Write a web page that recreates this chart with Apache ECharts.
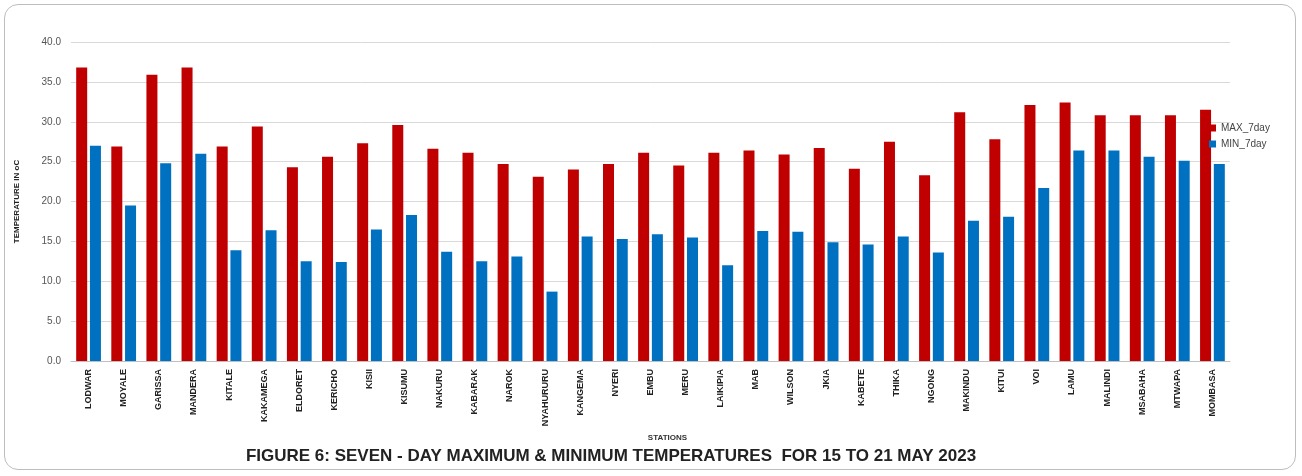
<!DOCTYPE html>
<html><head><meta charset="utf-8">
<script src="https://cdn.jsdelivr.net/npm/echarts@6/dist/echarts.min.js"></script>
<style>
html,body{margin:0;padding:0;background:#fff;}
#frame{position:absolute;left:4px;top:4px;width:1292px;height:466px;border:1px solid #bdbdbd;border-radius:14px;box-sizing:border-box;}
#c{position:absolute;left:0;top:0;width:1302px;height:476px;}
</style></head>
<body>
<div id="frame"></div>
<div id="c"></div>
<script>
const stations = ["LODWAR","MOYALE","GARISSA","MANDERA","KITALE","KAKAMEGA","ELDORET","KERICHO","KISII","KISUMU","NAKURU","KABARAK","NAROK","NYAHURURU","KANGEMA","NYERI","EMBU","MERU","LAIKIPIA","MAB","WILSON","JKIA","KABETE","THIKA","NGONG","MAKINDU","KITUI","VOI","LAMU","MALINDI","MSABAHA","MTWAPA","MOMBASA"];
const max7day = [36.8,26.9,35.9,36.8,26.9,29.4,24.3,25.6,27.3,29.6,26.6,26.1,24.7,23.1,24.0,24.7,26.1,24.5,26.1,26.4,25.9,26.7,24.1,27.5,23.3,31.2,27.8,32.1,32.4,30.8,30.8,30.8,31.5];
const min7day = [27.0,19.5,24.8,26.0,13.9,16.4,12.5,12.4,16.5,18.3,13.7,12.5,13.1,8.7,15.6,15.3,15.9,15.5,12.0,16.3,16.2,14.9,14.6,15.6,13.6,17.6,18.1,21.7,26.4,26.4,25.6,25.1,24.7];
const yTicks = {min:0, max:40, interval:5};

const chart = echarts.init(document.getElementById('c'));
chart.setOption({
  animation:false,
  textStyle:{fontFamily:'Liberation Sans Narrow, Liberation Sans, sans-serif'},
  title:{text:'FIGURE 6: SEVEN - DAY MAXIMUM & MINIMUM TEMPERATURES  FOR 15 TO 21 MAY 2023',left:606,top:443,textAlign:'center',
    textStyle:{fontFamily:'Liberation Sans Narrow, sans-serif',fontSize:17,fontWeight:'bold',color:'#222'}},
  legend:{orient:'vertical',left:1204,top:118,itemWidth:7,itemHeight:7,itemGap:6,icon:'rect',
    textStyle:{fontSize:10,color:'#444',fontFamily:'Liberation Sans, sans-serif'}},
  grid:{left:71,right:72,top:42,bottom:115},
  xAxis:{type:'category',data:stations,name:'STATIONS',nameLocation:'middle',nameGap:68,
    nameTextStyle:{fontSize:8,fontWeight:'bold',color:'#333',padding:[0,0,0,34]},
    axisTick:{show:false},axisLine:{lineStyle:{color:'#bfbfbf'}},
    axisLabel:{rotate:90,interval:0,fontSize:9,fontWeight:'bold',color:'#222',margin:8}},
  yAxis:{type:'value',min:yTicks.min,max:yTicks.max,interval:yTicks.interval,name:'TEMPERATURE IN oC',
    nameLocation:'middle',nameGap:50,nameRotate:90,
    nameTextStyle:{fontSize:8,fontWeight:'bold',color:'#222'},
    axisLabel:{formatter:v=>v.toFixed(1),fontSize:10,color:'#555',fontFamily:'Liberation Sans, sans-serif',margin:10},
    splitLine:{lineStyle:{color:'#d9d9d9'}},axisLine:{show:false}},
  series:[
    {name:'MAX_7day',type:'bar',data:max7day,barWidth:11,barGap:'25%',itemStyle:{color:'#C00000'}},
    {name:'MIN_7day',type:'bar',data:min7day,barWidth:11,itemStyle:{color:'#0070C0'}}
  ]
});
</script>
</body></html>
